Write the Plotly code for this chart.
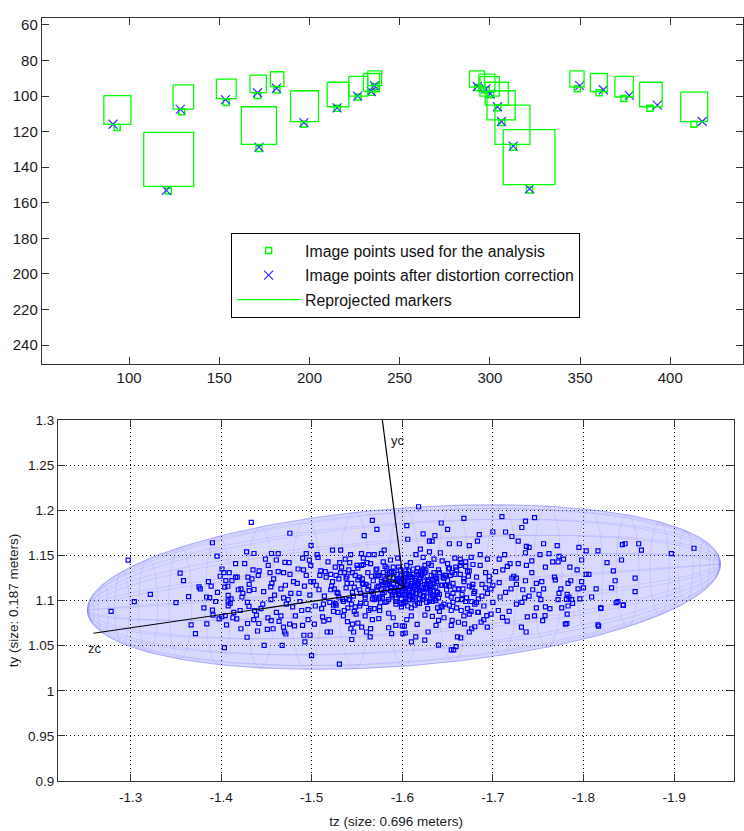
import numpy as np
import plotly.graph_objects as go

# ---------------- top panel data (image coordinates, pixels) ----------------
box_x0 = [86.0, 124.4, 108.1, 148.4, 167.0, 178.3, 162.2, 189.5, 209.8, 221.8, 229.9, 232.3,
          288.7, 293.9, 294.5, 297.4, 298.4, 302.8, 307.4, 344.3, 355.7, 369.3, 383.0, 405.7]
box_x1 = [101.0, 135.8, 135.8, 159.4, 176.1, 185.8, 181.7, 205.0, 221.8, 232.3, 238.8, 240.0,
          297.0, 302.8, 305.2, 310.2, 314.0, 322.2, 336.0, 352.2, 365.1, 379.5, 395.5, 420.7]
box_y0 = [99.7, 93.7, 120.4, 90.4, 88.2, 86.3, 106.0, 97.0, 92.2, 88.9, 87.3, 85.8,
          85.8, 87.6, 89.1, 92.2, 97.0, 105.1, 118.9, 85.8, 87.3, 88.9, 92.2, 97.8]
box_y1 = [115.9, 107.3, 150.8, 101.4, 98.1, 94.6, 127.2, 114.3, 106.0, 100.0, 97.4, 94.1,
          95.0, 97.4, 100.0, 105.1, 113.4, 127.2, 149.8, 95.0, 97.4, 100.5, 106.0, 114.3]
corr_x = [91.1, 128.4, 120.7, 153.4, 171.2, 181.7, 172.0, 196.9, 215.3, 226.7, 234.2, 236.0,
          293.0, 297.8, 300.2, 304.2, 306.4, 312.9, 322.0, 349.8, 362.9, 377.3, 392.8, 417.7]
corr_y = [115.8, 107.5, 153.0, 102.0, 98.1, 95.6, 128.7, 114.9, 106.6, 100.0, 97.4, 94.1,
          94.6, 95.9, 98.7, 106.0, 114.3, 128.1, 152.2, 94.1, 96.4, 99.6, 105.1, 114.3]
img_x = [93.4, 129.2, 121.8, 153.9, 171.2, 182.0, 172.0, 196.9, 215.3, 226.9, 234.5, 236.3,
         293.3, 298.0, 300.4, 304.4, 306.6, 313.0, 322.0, 348.5, 360.5, 374.3, 388.7, 413.1]
img_y = [117.6, 108.8, 153.3, 103.6, 99.6, 96.5, 129.4, 115.8, 106.9, 100.5, 97.9, 94.6,
         95.2, 96.5, 99.3, 106.6, 114.9, 128.7, 152.8, 95.9, 98.1, 101.4, 106.9, 115.8]

top_xticks = [100, 150, 200, 250, 300, 350, 400]
top_yticks = [60, 80, 100, 120, 140, 160, 180, 200, 220, 240]

# ---------------- bottom panel data (metres): outer samples ----------------
tz_outer = [
    -1.618, -1.567, -1.572, -1.605, -1.558, -1.668, -1.643, -1.623, -1.636, -1.650, -1.710, -1.746,
    -1.736, -1.732, -1.700, -1.714, -1.721, -1.685, -1.606, -1.630, -1.633, -1.652, -1.663, -1.674,
    -1.683, -1.728, -1.737, -1.740, -1.756, -1.771, -1.795, -1.803, -1.816, -1.843, -1.846, -1.861,
    -1.864, -1.897, -1.922, -1.842, -1.826, -1.833, -1.835, -1.857, -1.857, -1.831, -1.814, -1.819,
    -1.838, -1.844, -1.809, -1.803, -1.806, -1.798, -1.785, -1.794, -1.800, -1.782, -1.784, -1.787,
    -1.783, -1.772, -1.775, -1.769, -1.754, -1.773, -1.772, -1.762, -1.752, -1.743, -1.737, -1.719,
    -1.707, -1.711, -1.721, -1.726, -1.736, -1.744, -1.751, -1.740, -1.748, -1.758, -1.732, -1.735,
    -1.720, -1.726, -1.707, -1.714, -1.700, -1.700, -1.782, -1.780, -1.816,
    -1.2786, -1.3042, -1.3502, -1.3669, -1.3717, -1.3842, -1.3978, -1.4036, -1.4046, -1.4172,
    -1.4219, -1.4292, -1.4308, -1.4402, -1.4417, -1.4287, -1.4475, -1.4674, -1.4517, -1.4553,
    -1.4574, -1.4689, -1.4700, -1.4715, -1.4757, -1.4899, -1.4914, -1.4925, -1.4998, -1.4982,
    -1.5134, -1.5171, -1.5207, -1.5306, -1.5395, -1.5432, -1.5442, -1.5552, -1.5605, -1.5463,
    -1.5646, -1.5741, -1.5850, -1.5929, -1.5882, -1.6007, -1.6033, -1.6023, -1.6101, -1.6149,
    -1.6164, -1.6248, -1.6285, -1.6373, -1.6332, -1.6400, -1.6541, -1.6567, -1.6593, -1.6609,
    -1.6645, -1.6541, -1.6687, -1.6740, -1.6766, -1.6834, -1.6870, -1.6938, -1.6933, -1.7106,
    -1.7158, -1.7315, -1.7367, -1.7550, -1.7576, -1.7817, -1.8167, -1.8361, -1.8439, -1.8193,
    -1.7812,
    -1.2974, -1.3219, -1.3548, -1.3585, -1.3641, -1.3756, -1.3770, -1.3874, -1.3904, -1.3956,
    -1.4052, -1.4119, -1.4074, -1.4078, -1.4078, -1.4078, -1.3904, -1.4007, -1.4178, -1.4219,
    -1.4281, -1.4296, -1.4333, -1.4363, -1.4352, -1.4363, -1.4556, -1.4548, -1.4704, -1.4759,
    -1.4993, -1.4974,
]
ty_outer = [
    1.204, 1.189, 1.179, 1.183, 1.172, 1.191, 1.186, 1.174, 1.172, 1.179, 1.193, 1.192,
    1.188, 1.181, 1.176, 1.176, 1.171, 1.173, 1.168, 1.166, 1.166, 1.163, 1.163, 1.161,
    1.166, 1.166, 1.160, 1.159, 1.163, 1.161, 1.159, 1.155, 1.155, 1.162, 1.163, 1.163,
    1.156, 1.152, 1.158, 1.145, 1.142, 1.133, 1.122, 1.125, 1.110, 1.114, 1.113, 1.092,
    1.099, 1.095, 1.104, 1.129, 1.129, 1.145, 1.137, 1.113, 1.114, 1.107, 1.104, 1.101,
    1.094, 1.101, 1.113, 1.123, 1.121, 1.149, 1.143, 1.152, 1.151, 1.144, 1.139, 1.141,
    1.146, 1.134, 1.125, 1.125, 1.122, 1.112, 1.107, 1.105, 1.092, 1.093, 1.098, 1.103,
    1.113, 1.118, 1.120, 1.109, 1.117, 1.098, 1.085, 1.074, 1.073,
    1.0880, 1.0989, 1.0978, 1.0732, 1.0634, 1.0743, 1.0797, 1.0478, 1.0833, 1.0797,
    1.0688, 1.0746, 1.0935, 1.0663, 1.0746, 1.0594, 1.0504, 1.0504, 1.0808, 1.0779,
    1.0688, 1.0707, 1.0652, 1.0630, 1.0739, 1.0725, 1.0616, 1.0543, 1.0391, 1.0616,
    1.0772, 1.0652, 1.0652, 1.0297, 1.0768, 1.0688, 1.0569, 1.0707, 1.0652, 1.0652,
    1.0598, 1.0801, 1.0699, 1.0725, 1.0634, 1.0634, 1.0641, 1.0717, 1.0543, 1.0598,
    1.0736, 1.0562, 1.0652, 1.0725, 1.0826, 1.0507, 1.0453, 1.0453, 1.0489, 1.0598,
    1.0587, 1.0725, 1.0743, 1.0652, 1.0688, 1.0870, 1.0761, 1.0707, 1.0833, 1.0815,
    1.0772, 1.0707, 1.0652, 1.0779, 1.0833, 1.0746, 1.0717, 1.0978, 1.0949, 1.0913,
    1.1014,
    1.1449, 1.1069, 1.1304, 1.1221, 1.1043, 1.1152, 1.1130, 1.1033, 1.1641, 1.1493,
    1.1221, 1.1221, 1.1159, 1.1058, 1.0996, 1.0942, 1.0895, 1.0822, 1.1261, 1.1130,
    1.1540, 1.1261, 1.1866, 1.1522, 1.1341, 1.1123, 1.1522, 1.1152, 1.1424, 1.1746,
    1.1612, 1.1449,
]

# ---------------- bottom panel data (metres): central samples ----------------
tz_core = [
    -1.452, -1.455, -1.458, -1.461, -1.463, -1.466, -1.469, -1.472, -1.475, -1.477,
    -1.480, -1.482, -1.485, -1.487, -1.490, -1.492, -1.494, -1.496, -1.498, -1.499,
    -1.502, -1.504, -1.506, -1.508, -1.510, -1.512, -1.514, -1.516, -1.518, -1.520,
    -1.522, -1.524, -1.526, -1.528, -1.530, -1.532, -1.534, -1.536, -1.538, -1.540,
    -1.542, -1.544, -1.546, -1.548, -1.549,
    -1.551, -1.553, -1.554, -1.556, -1.557, -1.559, -1.560, -1.562, -1.563, -1.565,
    -1.566, -1.568, -1.569, -1.571, -1.572, -1.574, -1.575, -1.577, -1.578, -1.580,
    -1.581, -1.583, -1.584, -1.586, -1.587, -1.589, -1.590, -1.591, -1.593, -1.594,
    -1.595, -1.596, -1.598, -1.599, -1.599,
    -1.601, -1.602, -1.603, -1.604, -1.605, -1.606, -1.607, -1.608, -1.609, -1.610,
    -1.611, -1.612, -1.613, -1.614, -1.616, -1.617, -1.618, -1.619, -1.620, -1.622,
    -1.623, -1.624, -1.625, -1.627, -1.628, -1.629, -1.631, -1.632, -1.634, -1.635,
    -1.637, -1.638, -1.640, -1.641, -1.643, -1.644, -1.646, -1.647, -1.649, -1.650,
    -1.652, -1.654, -1.656, -1.658, -1.660, -1.662, -1.664, -1.666, -1.668, -1.670,
    -1.672, -1.674, -1.676, -1.678, -1.680, -1.682, -1.684, -1.686, -1.688, -1.690,
    -1.692, -1.694, -1.696, -1.698,
    -1.403, -1.410, -1.416, -1.423, -1.431, -1.437, -1.442, -1.447,
]
ty_core = [
    1.139, 1.101, 1.124, 1.087, 1.152, 1.113, 1.131, 1.096, 1.142, 1.108,
    1.121, 1.083, 1.135, 1.099, 1.147, 1.116, 1.128, 1.090, 1.106, 1.139,
    1.121, 1.094, 1.151, 1.112, 1.133, 1.082, 1.105, 1.126, 1.143, 1.098,
    1.116, 1.088, 1.137, 1.109, 1.124, 1.156, 1.101, 1.131, 1.114, 1.092,
    1.142, 1.119, 1.105, 1.128, 1.085,
    1.136, 1.112, 1.097, 1.124, 1.147, 1.106, 1.118, 1.131, 1.089, 1.141,
    1.110, 1.122, 1.101, 1.134, 1.115, 1.128, 1.093, 1.152, 1.107, 1.120,
    1.138, 1.099, 1.113, 1.126, 1.145, 1.104, 1.118, 1.131, 1.096, 1.123,
    1.110, 1.137, 1.116, 1.102, 1.128,
    1.113, 1.121, 1.106, 1.133, 1.118, 1.094, 1.126, 1.111, 1.142, 1.117,
    1.101, 1.129, 1.114, 1.122, 1.108, 1.136, 1.119, 1.097, 1.125, 1.112,
    1.148, 1.105, 1.131, 1.118, 1.091, 1.123, 1.109, 1.139, 1.115, 1.127,
    1.100, 1.121, 1.134, 1.107, 1.117, 1.144, 1.096, 1.128, 1.112, 1.122,
    1.136, 1.104, 1.119, 1.129, 1.092, 1.113, 1.146, 1.107, 1.124, 1.099,
    1.132, 1.116, 1.088, 1.140, 1.110, 1.126, 1.102, 1.151, 1.118, 1.094,
    1.131, 1.108, 1.122, 1.085,
    1.131, 1.097, 1.141, 1.104, 1.118, 1.089, 1.133, 1.110,
]

# densest cluster around the mean position
tz_dense = [
    -1.571, -1.573, -1.574, -1.576, -1.577, -1.579, -1.580, -1.582, -1.583, -1.585,
    -1.586, -1.588, -1.589, -1.590, -1.592, -1.593, -1.594, -1.596, -1.597, -1.598,
    -1.600, -1.601, -1.602, -1.603, -1.604, -1.605, -1.606, -1.607, -1.608, -1.609,
    -1.610, -1.611, -1.612, -1.613, -1.614, -1.615, -1.616, -1.617, -1.618, -1.619,
    -1.620, -1.621, -1.622, -1.623, -1.624, -1.625, -1.626, -1.627, -1.628, -1.629,
    -1.630, -1.631, -1.632, -1.633, -1.634, -1.635, -1.636, -1.637, -1.638, -1.639,
    -1.572, -1.578, -1.584, -1.591, -1.595, -1.599, -1.603, -1.607, -1.611, -1.615,
    -1.619, -1.623, -1.627, -1.631, -1.635, -1.588, -1.596, -1.604, -1.612, -1.620,
]
ty_dense = [
    1.103, 1.127, 1.116, 1.098, 1.121, 1.131, 1.109, 1.124, 1.113, 1.101,
    1.119, 1.132, 1.106, 1.125, 1.114, 1.099, 1.129, 1.108, 1.121, 1.134,
    1.111, 1.126, 1.098, 1.117, 1.130, 1.105, 1.122, 1.113, 1.101, 1.127,
    1.109, 1.119, 1.135, 1.103, 1.116, 1.124, 1.112, 1.097, 1.129, 1.107,
    1.121, 1.114, 1.101, 1.126, 1.110, 1.118, 1.133, 1.104, 1.115, 1.123,
    1.099, 1.112, 1.128, 1.106, 1.119, 1.131, 1.102, 1.115, 1.125, 1.109,
    1.112, 1.104, 1.118, 1.109, 1.123, 1.096, 1.113, 1.129, 1.104, 1.120,
    1.111, 1.135, 1.098, 1.117, 1.106, 1.115, 1.107, 1.124, 1.110, 1.128,
]

# samples between the dense cluster and the outer ones
tz_mid = [
    -1.521, -1.524, -1.527, -1.530, -1.533, -1.536, -1.539, -1.542, -1.545, -1.548,
    -1.551, -1.554, -1.557, -1.560, -1.563, -1.566, -1.569, -1.572, -1.575, -1.578,
    -1.581, -1.584, -1.587, -1.590, -1.593, -1.596, -1.599, -1.602, -1.605, -1.608,
    -1.611, -1.614, -1.617, -1.620, -1.623, -1.626, -1.629, -1.632, -1.635, -1.638,
    -1.641, -1.644, -1.647, -1.650, -1.653, -1.656, -1.659, -1.662, -1.665, -1.668,
    -1.671, -1.674, -1.677, -1.680, -1.523, -1.529, -1.535, -1.541, -1.547, -1.553,
    -1.559, -1.565, -1.571, -1.577, -1.583, -1.589, -1.595, -1.601, -1.607, -1.613,
    -1.619, -1.625, -1.631, -1.637, -1.643, -1.649, -1.655, -1.661, -1.667, -1.673,
    -1.679, -1.526, -1.538, -1.550, -1.562, -1.574, -1.586, -1.598, -1.610, -1.622,
    -1.634, -1.646, -1.658, -1.670, -1.532, -1.544, -1.556, -1.568, -1.580, -1.592,
    -1.604, -1.616, -1.628, -1.640, -1.652, -1.664, -1.676, -1.585, -1.597, -1.609,
    -1.621, -1.633, -1.591, -1.603, -1.615, -1.627, -1.579, -1.567, -1.639, -1.651,
]
ty_mid = [
    1.112, 1.095, 1.128, 1.104, 1.137, 1.089, 1.119, 1.101, 1.131, 1.093,
    1.123, 1.108, 1.140, 1.097, 1.116, 1.127, 1.091, 1.135, 1.104, 1.118,
    1.098, 1.129, 1.111, 1.137, 1.102, 1.124, 1.093, 1.115, 1.139, 1.106,
    1.126, 1.095, 1.118, 1.132, 1.104, 1.113, 1.141, 1.099, 1.122, 1.109,
    1.131, 1.093, 1.117, 1.106, 1.128, 1.098, 1.137, 1.112, 1.089, 1.121,
    1.103, 1.133, 1.115, 1.096, 1.121, 1.108, 1.099, 1.134, 1.115, 1.126,
    1.103, 1.091, 1.128, 1.112, 1.136, 1.107, 1.121, 1.097, 1.133, 1.116,
    1.102, 1.139, 1.111, 1.124, 1.094, 1.117, 1.131, 1.101, 1.113, 1.127,
    1.108, 1.097, 1.125, 1.139, 1.112, 1.102, 1.131, 1.119, 1.092, 1.133,
    1.104, 1.125, 1.113, 1.138, 1.131, 1.096, 1.119, 1.108, 1.127, 1.113,
    1.099, 1.132, 1.121, 1.103, 1.116, 1.129, 1.099, 1.121, 1.106, 1.116,
    1.128, 1.099, 1.111, 1.107, 1.122, 1.118, 1.143, 1.102, 1.092, 1.135,
]

# samples surrounding the dense cluster
tz_ring = [
    -1.503, -1.507, -1.511, -1.515, -1.519, -1.523, -1.527, -1.531, -1.535, -1.539,
    -1.543, -1.547, -1.551, -1.555, -1.559, -1.563, -1.567, -1.505, -1.513, -1.521,
    -1.529, -1.537, -1.545, -1.553, -1.561, -1.569, -1.509, -1.525, -1.541, -1.557,
    -1.642, -1.646, -1.650, -1.654, -1.658, -1.662, -1.666, -1.670, -1.674, -1.678,
    -1.682, -1.686, -1.690, -1.694, -1.698, -1.644, -1.652, -1.660, -1.668, -1.676,
    -1.684, -1.692, -1.648, -1.664, -1.680, -1.696, -1.656, -1.672, -1.688, -1.641,
    -1.585, -1.595, -1.605, -1.615, -1.625, -1.635, -1.580, -1.600, -1.620, -1.640,
    -1.590, -1.610, -1.630, -1.575, -1.565, -1.645, -1.655, -1.555, -1.545, -1.665,
    -1.381, -1.386, -1.391, -1.396, -1.401, -1.406, -1.411, -1.416, -1.421, -1.426,
    -1.431, -1.436, -1.441, -1.446, -1.451, -1.456, -1.461, -1.466, -1.471, -1.476,
    -1.481, -1.486, -1.491, -1.496, -1.384, -1.394, -1.404, -1.414, -1.424, -1.434,
    -1.444, -1.454, -1.464, -1.474, -1.484, -1.494, -1.389, -1.409, -1.429, -1.449,
    -1.469, -1.489, -1.399, -1.419, -1.439, -1.459, -1.479, -1.499, -1.413, -1.463,
    -1.703, -1.708, -1.713, -1.718, -1.723, -1.728, -1.733, -1.738, -1.743, -1.748,
    -1.753, -1.758, -1.763, -1.768, -1.773, -1.778, -1.783, -1.788, -1.793, -1.798,
    -1.706, -1.716, -1.726, -1.736, -1.746, -1.756, -1.766, -1.776, -1.786, -1.796,
]
ty_ring = [
    1.074, 1.148, 1.091, 1.132, 1.079, 1.156, 1.095, 1.142, 1.083, 1.127,
    1.151, 1.088, 1.075, 1.139, 1.083, 1.151, 1.079, 1.117, 1.096, 1.129,
    1.087, 1.146, 1.109, 1.094, 1.142, 1.151, 1.128, 1.113, 1.101, 1.118,
    1.153, 1.081, 1.141, 1.089, 1.147, 1.076, 1.101, 1.143, 1.085, 1.118,
    1.098, 1.139, 1.079, 1.146, 1.113, 1.117, 1.095, 1.134, 1.083, 1.148,
    1.087, 1.114, 1.128, 1.139, 1.071, 1.127, 1.108, 1.091, 1.105, 1.088,
    1.086, 1.147, 1.079, 1.151, 1.084, 1.146, 1.156, 1.072, 1.157, 1.078,
    1.081, 1.083, 1.154, 1.089, 1.069, 1.126, 1.078, 1.152, 1.074, 1.142,
    1.092, 1.121, 1.084, 1.109, 1.135, 1.073, 1.102, 1.126, 1.089, 1.141,
    1.111, 1.079, 1.128, 1.096, 1.068, 1.119, 1.145, 1.083, 1.117, 1.129,
    1.072, 1.108, 1.134, 1.079, 1.104, 1.099, 1.115, 1.087, 1.108, 1.124,
    1.091, 1.131, 1.077, 1.101, 1.119, 1.152, 1.116, 1.131, 1.098, 1.146,
    1.103, 1.089, 1.127, 1.112, 1.084, 1.106, 1.093, 1.121, 1.081, 1.132,
    1.132, 1.104, 1.151, 1.088, 1.127, 1.141, 1.112, 1.082, 1.131, 1.119,
    1.101, 1.137, 1.091, 1.126, 1.108, 1.146, 1.119, 1.097, 1.134, 1.121,
    1.089, 1.138, 1.096, 1.153, 1.083, 1.113, 1.143, 1.092, 1.122, 1.102,
]

# uncertainty ellipsoid (projected): centre, long semi-axis, vertical semi-axis, depth
ell_center = (-1.6018, 1.1150)
ell_long = (0.349, -0.0254)
ell_vert = (0.0, 0.0876)
ell_depth = (0.018, 0.0)

# camera frame axes drawn from the centre
frame_origin = (-1.6021, 1.1141)
yc_end = (-1.578, 1.300)
zc_end = (-1.259, 1.0638)
xc_end = (-1.590, 1.1230)
frame_labels = ["yc", "zc", "xc"]
label_tz = [-1.5947, -1.2602, -1.587]
label_ty = [1.2757, 1.0454, 1.1245]

bot_xticks = [-1.3, -1.4, -1.5, -1.6, -1.7, -1.8, -1.9]
bot_xticktext = ["-1.3", "-1.4", "-1.5", "-1.6", "-1.7", "-1.8", "-1.9"]
bot_yticks = [0.9, 0.95, 1.0, 1.05, 1.1, 1.15, 1.2, 1.25, 1.3]
bot_yticktext = ["0.9", "0.95", "1", "1.05", "1.1", "1.15", "1.2", "1.25", "1.3"]

W, H = 744, 831
FONT = "Liberation Sans, Arial, Helvetica, sans-serif"

fig = go.Figure()

# --- top panel ---
bx, by = [], []
for x0, x1, y0, y1 in zip(box_x0, box_x1, box_y0, box_y1):
    bx += [x0, x1, x1, x0, x0, None]
    by += [y0, y0, y1, y1, y0, None]

fig.add_trace(go.Scatter(
    x=img_x, y=img_y, mode="markers", name="Image points used for the analysis",
    legendgroup="a", xaxis="x", yaxis="y",
    marker=dict(symbol="square-open", size=6, color="#00ff00", line=dict(width=1.5, color="#00ff00"))))
fig.add_trace(go.Scatter(
    x=corr_x, y=corr_y, mode="markers", name="Image points after distortion correction",
    legendgroup="b", xaxis="x", yaxis="y",
    marker=dict(symbol="x-thin-open", size=9, color="#3333ff", line=dict(width=1.2, color="#3333ff"))))
fig.add_trace(go.Scatter(
    x=bx, y=by, mode="lines", name="Reprojected markers", legendgroup="c",
    xaxis="x", yaxis="y", line=dict(color="#00ff00", width=1.3)))

# --- bottom panel: ellipsoid ---
cx, cy = ell_center
u = np.array(ell_long); v = np.array(ell_vert); w = np.array(ell_depth)
t = np.linspace(0, 2 * np.pi, 240)
M = np.outer(u, u) + np.outer(v, v) + np.outer(w, w)
L = np.linalg.cholesky(M)
outline = L @ np.vstack([np.cos(t), np.sin(t)])
fig.add_trace(go.Scatter(
    x=cx + outline[0], y=cy + outline[1], mode="lines", fill="toself",
    fillcolor="rgba(120,120,255,0.28)", line=dict(color="rgba(120,120,255,0.45)", width=1),
    xaxis="x2", yaxis="y2", showlegend=False, hoverinfo="skip"))

mx, my = [], []
phis = np.linspace(0, np.pi, 21)[1:-1]
th = np.linspace(0, 2 * np.pi, 60)
for p in phis:
    s, r = np.cos(p), np.sin(p)
    pts = np.array([cx, cy])[:, None] + np.outer(u, s * np.ones_like(th)) + r * (np.outer(v, np.cos(th)) + np.outer(w, np.sin(th)))
    mx += list(pts[0]) + [None]; my += list(pts[1]) + [None]
ph = np.linspace(0, np.pi, 60)
for k in np.linspace(0, 2 * np.pi, 21)[:-1]:
    pts = np.array([cx, cy])[:, None] + np.outer(u, np.cos(ph)) + np.sin(ph) * (v[:, None] * np.cos(k) + w[:, None] * np.sin(k))
    mx += list(pts[0]) + [None]; my += list(pts[1]) + [None]
fig.add_trace(go.Scatter(
    x=mx, y=my, mode="lines", line=dict(color="rgba(110,110,255,0.22)", width=0.8),
    xaxis="x2", yaxis="y2", showlegend=False, hoverinfo="skip"))

# --- bottom panel: samples ---
fig.add_trace(go.Scatter(
    x=tz_outer + tz_core + tz_dense + tz_mid + tz_ring,
    y=ty_outer + ty_core + ty_dense + ty_mid + ty_ring,
    mode="markers", xaxis="x2", yaxis="y2", showlegend=False,
    marker=dict(symbol="square-open", size=4, color="#0000ff", line=dict(width=1.2, color="#0000ff"))))

# --- camera frame ---
ox, oy = frame_origin
fx, fy = [], []
for ex, ey in (yc_end, zc_end, xc_end):
    fx += [ox, ex, None]; fy += [oy, ey, None]
fig.add_trace(go.Scatter(x=fx, y=fy, mode="lines", line=dict(color="black", width=1.2),
                         xaxis="x2", yaxis="y2", showlegend=False, hoverinfo="skip"))
fig.add_trace(go.Scatter(
    x=label_tz, y=label_ty, mode="text", text=frame_labels,
    textfont=dict(family=FONT, size=13, color="#222"),
    xaxis="x2", yaxis="y2", showlegend=False, hoverinfo="skip"))

axis_common = dict(showline=True, linecolor="#333", linewidth=1.3, mirror="ticks",
                   ticks="inside", ticklen=7, tickwidth=1, tickcolor="#333", zeroline=False)

fig.update_layout(
    width=W, height=H, margin=dict(l=0, r=0, t=0, b=0),
    paper_bgcolor="white", plot_bgcolor="white",
    font=dict(family=FONT, color="#1a1a1a"),
    xaxis=dict(domain=[42 / W, 1.0], range=[51.7, 440.3], tickvals=top_xticks,
               showgrid=False, tickfont=dict(size=15), anchor="y", **axis_common),
    yaxis=dict(domain=[1 - 363.3 / H, 1 - 11 / H], range=[250.5, 55.97], tickvals=top_yticks,
               showgrid=False, tickfont=dict(size=15), anchor="x", **axis_common),
    xaxis2=dict(domain=[58.3 / W, 735 / W], range=[-1.2202, -1.9662], tickvals=bot_xticks,
                ticktext=bot_xticktext,
                showgrid=True, gridcolor="black", griddash="1px,3px", gridwidth=1,
                tickfont=dict(size=13.5), anchor="y2", ticklabelstandoff=4,
                title=dict(text="tz (size: 0.696 meters)", font=dict(size=13.5), standoff=12),
                **axis_common),
    yaxis2=dict(domain=[1 - 788.3 / H, 1 - 420.7 / H], range=[0.9, 1.3], tickvals=bot_yticks,
                ticktext=bot_yticktext,
                showgrid=True, gridcolor="black", griddash="1px,3px", gridwidth=1,
                tickfont=dict(size=13.5), anchor="x2",
                title=dict(text="ty (size: 0.187 meters)", font=dict(size=13.5), standoff=6),
                **axis_common),
    legend=dict(x=231.4 / W, y=1 - 230 / H, xanchor="left", yanchor="top",
                bgcolor="white", bordercolor="black", borderwidth=1,
                font=dict(size=15.8, family=FONT, color="#111"), itemwidth=63,
                tracegroupgap=1),
)

fig.write_html("out.html")
